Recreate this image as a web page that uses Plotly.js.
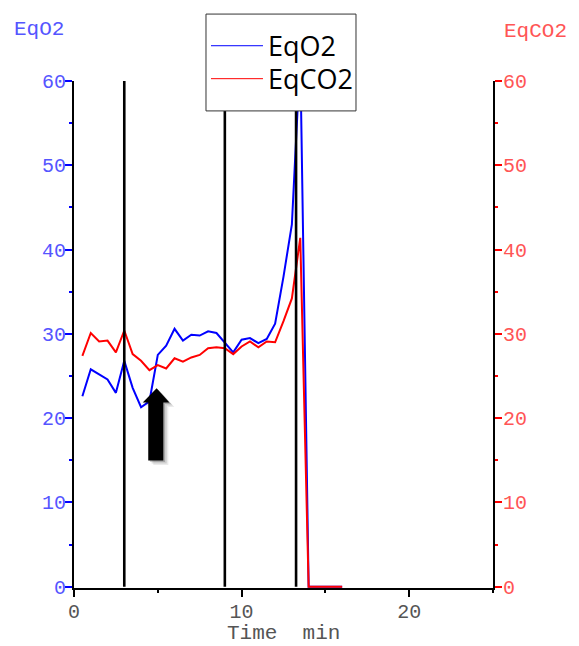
<!DOCTYPE html>
<html><head><meta charset="utf-8">
<script src="https://cdn.plot.ly/plotly-3.0.1.min.js"></script>
<style>html,body{margin:0;padding:0;background:#fff}#chart{width:579px;height:646px}</style>
</head><body><div id="chart"></div>
<script>
// ---- data ----
const time  = [0.5, 1, 1.5, 2, 2.5, 3, 3.5, 4, 4.5, 5, 5.5, 6, 6.5, 7, 7.5, 8, 8.5, 9, 9.5, 10, 10.5, 11, 11.5, 12, 12.5, 13, 13.5, 14, 16];
const eqO2  = [22.6, 25.8, 25.2, 24.6, 23.0, 26.8, 23.6, 21.3, 22.0, 27.5, 28.6, 30.6, 29.2, 29.9, 29.8, 30.3, 30.1, 29.0, 27.8, 29.3, 29.5, 28.9, 29.4, 31.2, 36.8, 43.0, 63.0, 0, 0];
const eqCO2 = [27.4, 30.1, 29.1, 29.2, 27.8, 30.4, 27.6, 26.8, 25.7, 26.3, 25.9, 27.1, 26.7, 27.2, 27.5, 28.3, 28.4, 28.3, 27.6, 28.5, 29.1, 28.4, 29.1, 29.0, 31.5, 34.2, 41.4, 0, 0];
const seriesNames = ['EqO2', 'EqCO2'];
const markerTimes = [3, 9, 13.25];        // vertical event lines
const xTickVals = [0, 10, 20];
const yTickVals = [0, 10, 20, 30, 40, 50, 60];
const xTitle = 'Time  min';
// arrow annotation outline (time, value)
const arrowT = [4.93, 5.69, 5.33, 5.33, 4.43, 4.43, 4.10];
const arrowV = [23.55, 21.86, 21.86, 14.99, 14.99, 21.86, 21.86];

const BLUE = '#0000ff', RED = '#ff0000';
const BLUE_TXT = '#5555ff', RED_TXT = '#ff5555';
const MONO = 'Liberation Mono, Courier New, monospace';
const LEG_FONT = {family: 'Open Sans, Noto Sans, sans-serif', size: 27, color: '#000'};

function arrowPath(dt, dv) {
  return arrowT.map((t, i) => (i ? 'L' : 'M') + (t + dt) + ',' + (arrowV[i] + dv)).join(' ') + ' Z';
}

const traces = [
  {x: time, y: eqO2, type: 'scatter', mode: 'lines', name: seriesNames[0], showlegend: false,
   line: {color: BLUE, width: 2}, yaxis: 'y'},
  {x: time, y: eqCO2, type: 'scatter', mode: 'lines', name: seriesNames[1], showlegend: false,
   line: {color: RED, width: 2}, yaxis: 'y2'},
  {x: [null], y: [null], type: 'scatter', mode: 'lines', name: seriesNames[0], line: {color: BLUE, width: 1}, legend: 'legend'},
  {x: [null], y: [null], type: 'scatter', mode: 'lines', name: seriesNames[1], line: {color: RED, width: 1}, legend: 'legend2'}
];

const shapes = [];
markerTimes.forEach(t => shapes.push({type: 'line', xref: 'x', yref: 'y', x0: t, x1: t, y0: 0, y1: 60,
  line: {color: '#000', width: 2.6}, layer: 'above'}));
// arrow shadow + arrow
shapes.push({type: 'path', xref: 'x', yref: 'y', path: arrowPath(0.30, -0.55), fillcolor: 'rgba(0,0,0,0.08)', line: {width: 0}, layer: 'above'});
shapes.push({type: 'path', xref: 'x', yref: 'y', path: arrowPath(0.20, -0.36), fillcolor: 'rgba(0,0,0,0.12)', line: {width: 0}, layer: 'above'});
shapes.push({type: 'path', xref: 'x', yref: 'y', path: arrowPath(0.10, -0.18), fillcolor: 'rgba(0,0,0,0.18)', line: {width: 0}, layer: 'above'});
shapes.push({type: 'path', xref: 'x', yref: 'y', path: arrowPath(0, 0), fillcolor: '#000', line: {width: 0}, layer: 'above'});
// legend box
shapes.push({type: 'rect', xref: 'paper', yref: 'paper', x0: 0.315, x1: 0.673, y0: 0.941, y1: 1.132,
  fillcolor: '#fff', line: {color: '#333', width: 1}, layer: 'above'});

const yCommon = {range: [-0.15, 60], tickvals: yTickVals, showline: true, linecolor: '#000', linewidth: 2,
  ticks: 'outside', ticklen: 7, tickwidth: 2, showgrid: false, zeroline: false, fixedrange: true,
  layer: 'below traces',
  minor: {dtick: 5, ticks: 'outside', ticklen: 3, tickwidth: 2}};

const legCommon = {xanchor: 'left', yanchor: 'top', bgcolor: 'rgba(0,0,0,0)', borderwidth: 0,
  font: LEG_FONT, itemwidth: 52};

const layout = {
  width: 579, height: 646,
  margin: {l: 74, r: 86, t: 81, b: 58},
  paper_bgcolor: '#fff', plot_bgcolor: '#fff',
  showlegend: true,
  legend: Object.assign({x: 0.315, y: 1.117}, legCommon),
  legend2: Object.assign({x: 0.315, y: 1.052}, legCommon),
  xaxis: {range: [0, 25], tickvals: xTickVals, showline: true, linecolor: '#000', linewidth: 2,
    ticks: 'outside', ticklen: 7, tickwidth: 2, tickcolor: '#000', showgrid: false, zeroline: false,
    ticklabelstandoff: -3, layer: 'below traces',
    minor: {dtick: 5, ticks: 'outside', ticklen: 3, tickwidth: 2, tickcolor: '#000'},
    tickfont: {family: MONO, size: 20, color: '#555'}},
  yaxis: Object.assign({}, yCommon, {side: 'left', tickcolor: BLUE, ticklabelstandoff: -5,
    minor: Object.assign({}, yCommon.minor, {tickcolor: BLUE}),
    tickfont: {family: MONO, size: 20, color: BLUE_TXT}}),
  yaxis2: Object.assign({}, yCommon, {side: 'right', overlaying: 'y', tickcolor: RED, ticklabelstandoff: -3,
    minor: Object.assign({}, yCommon.minor, {tickcolor: RED}),
    tickfont: {family: MONO, size: 20, color: RED_TXT}}),
  shapes: shapes,
  annotations: [
    {xref: 'paper', yref: 'paper', x: -0.148, y: 1.1006, xanchor: 'left', yanchor: 'middle', showarrow: false,
     text: seriesNames[0], font: {family: MONO, size: 21, color: BLUE_TXT}},
    {xref: 'paper', yref: 'paper', x: 1.181, y: 1.098, xanchor: 'right', yanchor: 'middle', showarrow: false,
     text: seriesNames[1], font: {family: MONO, size: 21, color: RED_TXT}},
    {xref: 'paper', yref: 'paper', x: 0.5, y: -0.0907, xanchor: 'center', yanchor: 'middle', showarrow: false,
     borderpad: 0, text: xTitle.replace(/ /g, '&nbsp;'), font: {family: MONO, size: 21, color: '#555'}}
  ]
};

Plotly.newPlot('chart', traces, layout, {displayModeBar: false, staticPlot: true});
</script></body></html>
